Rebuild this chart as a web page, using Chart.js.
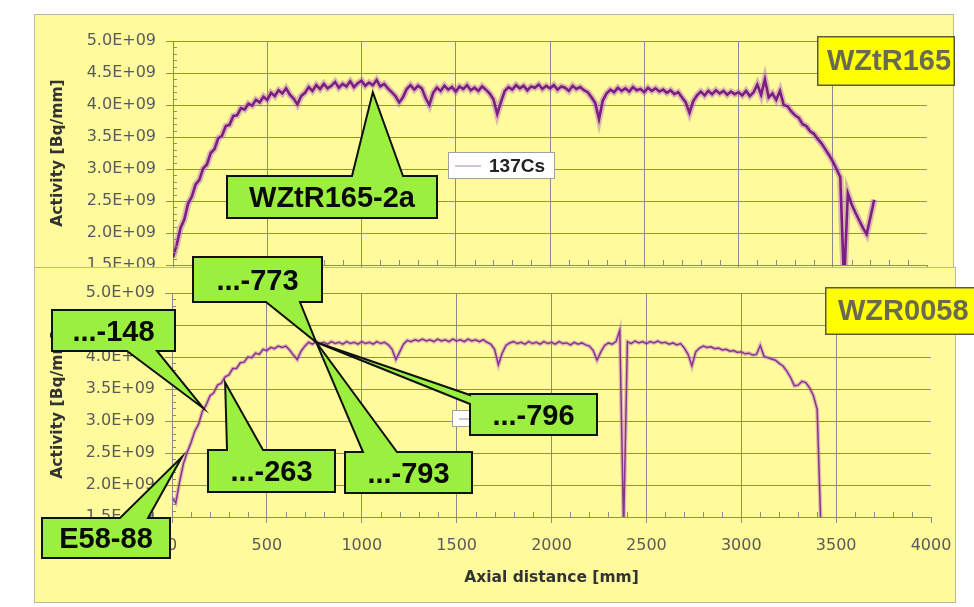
<!DOCTYPE html>
<html>
<head>
<meta charset="utf-8">
<title>137Cs axial activity profiles</title>
<script src="https://cdn.jsdelivr.net/npm/chart.js@4.4.1/dist/chart.umd.min.js"></script>
<style>
  body { margin: 0; background: #fff; }
  .panel { position: absolute; background: #fffb9d; outline: 1px solid #b9b9a4; overflow: hidden; }
  #panel-top { left: 35px; top: 15px; width: 918px; height: 253px; }
  #panel-bottom { left: 35px; top: 268px; width: 920px; height: 334px; }
  .panel canvas { position: absolute; left: 0; top: 0; }
  #overlay { position: absolute; left: 0; top: 0; }
</style>
</head>
<body>
<div class="panel" id="panel-top"><canvas id="chart-top" width="918" height="334"></canvas></div>
<div class="panel" id="panel-bottom"><canvas id="chart-bottom" width="920" height="334"></canvas></div>
<canvas id="overlay" width="974" height="607"></canvas>
<script>
// scan positions: one reading every 20 mm starting at 0 mm
const stepMm = 20;
const xMax = 4000;
const xTickStep = 500;
const yMin = 1.5, yMax = 5.0, yTickStep = 0.5; // in 1E+09 Bq/mm

// 137Cs activity of rod WZtR165 [1E+09 Bq/mm]
const wztr165 = [
  1.62, 1.82, 2.08, 2.21, 2.46, 2.57, 2.76, 2.83, 3.01, 3.07,
  3.25, 3.31, 3.48, 3.52, 3.67, 3.69, 3.83, 3.84, 3.95, 3.93,
  4.02, 3.99, 4.08, 4.04, 4.13, 4.08, 4.19, 4.14, 4.23, 4.18,
  4.26, 4.16, 4.10, 4.01, 4.14, 4.19, 4.28, 4.22, 4.31, 4.25,
  4.33, 4.26, 4.30, 4.36, 4.27, 4.33, 4.29, 4.37, 4.28, 4.34,
  4.38, 4.30, 4.35, 4.31, 4.39, 4.29, 4.33, 4.26, 4.20, 4.14,
  4.04, 4.12, 4.25, 4.31, 4.24, 4.30, 4.26, 4.11, 4.00, 4.19,
  4.27, 4.22, 4.30, 4.24, 4.28, 4.21, 4.29, 4.25, 4.31, 4.23,
  4.27, 4.22, 4.29, 4.24, 4.18, 4.09, 3.86, 4.05, 4.22, 4.28,
  4.24, 4.31, 4.26, 4.30, 4.23, 4.29, 4.27, 4.32, 4.25, 4.30,
  4.26, 4.31, 4.24, 4.29, 4.27, 4.22, 4.30, 4.25, 4.28, 4.23,
  4.20, 4.12, 4.03, 3.78, 4.07, 4.18, 4.24, 4.20, 4.27, 4.22,
  4.26, 4.21, 4.28, 4.23, 4.25, 4.20, 4.27, 4.22, 4.26, 4.21,
  4.24, 4.19, 4.23, 4.17, 4.20, 4.12, 4.04, 3.88, 4.06, 4.15,
  4.21, 4.15, 4.22, 4.17, 4.23, 4.18, 4.22, 4.16, 4.21, 4.17,
  4.20, 4.15, 4.22, 4.14, 4.20, 4.32, 4.16, 4.40, 4.12, 4.18,
  4.08, 4.22, 4.00, 3.98, 3.90, 3.84, 3.80, 3.70, 3.67, 3.59,
  3.55, 3.47, 3.40, 3.31, 3.22, 3.12, 3.00, 2.87, 1.20, 2.62,
  2.45, 2.32, 2.20, 2.08, 1.98, 2.25, 2.52
];

// 137Cs activity of rod WZR0058 [1E+09 Bq/mm]
const wzr0058 = [
  1.80, 1.72, 2.05, 2.33, 2.51, 2.66, 2.84, 2.95, 3.15, 3.25,
  3.39, 3.44, 3.56, 3.59, 3.69, 3.72, 3.82, 3.82, 3.91, 3.92,
  4.00, 3.99, 4.06, 4.04, 4.12, 4.10, 4.15, 4.13, 4.17, 4.15,
  4.17, 4.11, 4.03, 3.96, 4.09, 4.17, 4.23, 4.20, 4.24, 4.21,
  4.23, 4.20, 4.24, 4.21, 4.23, 4.20, 4.24, 4.21, 4.23, 4.20,
  4.24, 4.21, 4.23, 4.20, 4.24, 4.21, 4.23, 4.19, 4.12, 3.96,
  4.08, 4.20, 4.26, 4.24, 4.27, 4.25, 4.28, 4.25, 4.27, 4.24,
  4.28, 4.25, 4.27, 4.24, 4.28, 4.25, 4.27, 4.24, 4.28, 4.25,
  4.27, 4.24, 4.27, 4.23, 4.20, 4.12, 3.88, 4.06, 4.18, 4.22,
  4.24, 4.21, 4.23, 4.20, 4.24, 4.21, 4.23, 4.20, 4.24, 4.21,
  4.23, 4.20, 4.24, 4.21, 4.22, 4.19, 4.23, 4.20, 4.22, 4.19,
  4.17, 4.10, 3.95, 4.08, 4.18, 4.22, 4.20, 4.24, 4.42, 1.30,
  4.24, 4.21, 4.25, 4.22, 4.24, 4.21, 4.24, 4.22, 4.25, 4.22,
  4.23, 4.20, 4.22, 4.19, 4.21, 4.14, 4.04, 3.86, 4.08, 4.14,
  4.17, 4.15, 4.16, 4.13, 4.14, 4.11, 4.12, 4.09, 4.10, 4.07,
  4.08, 4.05, 4.06, 4.03, 4.04, 4.18, 4.01, 3.99, 3.97, 3.95,
  3.90, 3.86, 3.78, 3.68, 3.55, 3.56, 3.62, 3.60, 3.52, 3.40,
  3.18, 1.30
];

// sample callouts: tip given in (mm, 1E+09 Bq/mm) of the chart it points into
const callouts = [
  { text: 'WZtR165-2a', chart: 'top', at: [1060, 4.2], box: [227, 176, 210, 42], side: 'top', base: [352, 403] },
  { text: 'E58-88', chart: 'bottom', at: [53, 2.44], box: [42, 518, 128, 40], side: 'top', base: [120, 148] },
  { text: '...-148', chart: 'bottom', at: [165, 3.2], box: [52, 310, 123, 41], side: 'bottom', base: [127, 157] },
  { text: '...-263', chart: 'bottom', at: [280, 3.6], box: [208, 450, 127, 42], side: 'top', base: [227, 263] },
  { text: '...-796', chart: 'bottom', at: [760, 4.23], box: [470, 394, 127, 41], side: 'left', base: [395, 404] },
  { text: '...-793', chart: 'bottom', at: [760, 4.23], box: [345, 452, 127, 41], side: 'top', base: [363, 397] },
  { text: '...-773', chart: 'bottom', at: [760, 4.23], box: [193, 257, 129, 45], side: 'bottom', base: [266, 300] }
];

const gridGray = '#8a8a8a';
const axisFamily = '"DejaVu Sans", Arial, sans-serif';
const tickFont = { family: axisFamily, size: 16 };
const titleFont = { family: axisFamily, size: 15.5, weight: 'bold' };
const labelFamily = 'Arial, "Liberation Sans", sans-serif';

// Excel style minor tick marks along both axes
const minorTicks = {
  id: 'minorTicks',
  afterDraw(chart) {
    const { ctx, chartArea: a, scales: { x, y } } = chart;
    ctx.save();
    ctx.strokeStyle = gridGray;
    ctx.lineWidth = 1;
    ctx.beginPath();
    for (let v = 100; v < xMax; v += 100) {
      if (v % xTickStep === 0) continue;
      const px = Math.round(x.getPixelForValue(v)) + 0.5;
      ctx.moveTo(px, a.bottom);
      ctx.lineTo(px, a.bottom - 5);
    }
    for (let i = 16; i < 50; i++) {
      if (i % 5 === 0) continue;
      const py = Math.round(y.getPixelForValue(i / 10)) + 0.5;
      ctx.moveTo(a.left, py);
      ctx.lineTo(a.left + 4, py);
    }
    ctx.stroke();
    ctx.restore();
  }
};

function buildChart(id, values, o) {
  const points = values.map((v, i) => ({ x: i * stepMm, y: v }));
  return new Chart(document.getElementById(id), {
    type: 'line',
    data: {
      datasets: [
        { label: '137Cs', data: points, borderColor: o.color, borderWidth: o.width, pointRadius: 0, tension: 0, order: 0 },
        { label: '137Cs', data: points, borderColor: o.halo, borderWidth: o.haloWidth, pointRadius: 0, tension: 0, order: 1 }
      ]
    },
    options: {
      responsive: false,
      animation: false,
      events: [],
      layout: { padding: o.padding },
      plugins: { legend: { display: false }, tooltip: { enabled: false } },
      scales: {
        x: {
          type: 'linear', min: 0, max: xMax,
          ticks: { stepSize: xTickStep, color: '#5a5a5a', font: tickFont, padding: 13, maxRotation: 0, callback: v => String(v) },
          grid: {
            color: c => (c.tick && c.tick.value === xMax) ? 'rgba(0,0,0,0)' : gridGray,
            tickColor: gridGray, tickLength: 6
          },
          border: { color: gridGray },
          title: { display: true, text: 'Axial distance [mm]', color: '#333', font: titleFont, padding: { top: 4, bottom: 4 } },
          // fixed axis band; labels at the ends may spill into the panel margin
          afterFit: s => { s.height = 74; s.paddingLeft = 0; s.paddingRight = 0; }
        },
        y: {
          min: yMin, max: yMax,
          ticks: { stepSize: yTickStep, color: '#5a5a5a', font: tickFont, padding: 10, callback: v => v.toFixed(1) + 'E+09' },
          grid: { color: gridGray, tickColor: gridGray, tickLength: 7 },
          border: { color: gridGray },
          title: { display: true, text: 'Activity [Bq/mm]', color: '#333', font: titleFont, padding: { top: 4, bottom: 4 } },
          afterFit: s => { s.width = o.yWidth; s.paddingTop = 0; s.paddingBottom = 0; }
        }
      }
    },
    plugins: [minorTicks]
  });
}

const charts = {
  top: buildChart('chart-top', wztr165, {
    color: '#7d1d84', width: 2.6, halo: 'rgba(175,105,190,0.45)', haloWidth: 6.5,
    padding: { left: 10, right: 26, top: 26, bottom: 10 }, yWidth: 128
  }),
  bottom: buildChart('chart-bottom', wzr0058, {
    color: '#8a3090', width: 1.5, halo: 'rgba(180,110,190,0.45)', haloWidth: 4,
    padding: { left: 10, right: 24, top: 25, bottom: 11 }, yWidth: 127
  })
};
const panels = { top: document.getElementById('panel-top'), bottom: document.getElementById('panel-bottom') };

function toPage(name, mm, val) {
  const ch = charts[name], p = panels[name];
  return { x: p.offsetLeft + ch.scales.x.getPixelForValue(mm), y: p.offsetTop + ch.scales.y.getPixelForValue(val) };
}

function drawLegend(ctx, chart, x, y, w, h) {
  const ds = chart.data.datasets[0];
  ctx.fillStyle = '#fff';
  ctx.fillRect(x, y, w, h);
  ctx.strokeStyle = '#a0a0a0';
  ctx.lineWidth = 1;
  ctx.strokeRect(x + 0.5, y + 0.5, w - 1, h - 1);
  ctx.strokeStyle = '#9a8aa0';
  ctx.beginPath();
  ctx.moveTo(x + 7, y + h / 2 + 0.5);
  ctx.lineTo(x + 33, y + h / 2 + 0.5);
  ctx.stroke();
  ctx.fillStyle = '#222';
  ctx.font = 'bold 19px ' + labelFamily;
  ctx.textAlign = 'left';
  ctx.textBaseline = 'middle';
  ctx.fillText(ds.label, x + 41, y + h / 2 + 1);
}

function drawTag(ctx, text, x, y, w, h, tx) {
  ctx.fillStyle = '#ffff00';
  ctx.fillRect(x, y, w, h);
  ctx.strokeStyle = '#5a5a40';
  ctx.lineWidth = 1.5;
  ctx.strokeRect(x + 0.75, y + 0.75, w - 1.5, h - 1.5);
  ctx.fillStyle = '#6a6a52';
  ctx.font = 'bold 29px ' + labelFamily;
  ctx.textAlign = 'left';
  ctx.textBaseline = 'middle';
  ctx.fillText(text, tx, y + h / 2 + 1);
}

function drawCallout(ctx, c) {
  const tip = toPage(c.chart, c.at[0], c.at[1]);
  const [x, y, w, h] = c.box;
  const [a, b] = c.base;
  ctx.beginPath();
  ctx.moveTo(x, y);
  if (c.side === 'top') { ctx.lineTo(a, y); ctx.lineTo(tip.x, tip.y); ctx.lineTo(b, y); }
  ctx.lineTo(x + w, y);
  ctx.lineTo(x + w, y + h);
  if (c.side === 'bottom') { ctx.lineTo(b, y + h); ctx.lineTo(tip.x, tip.y); ctx.lineTo(a, y + h); }
  ctx.lineTo(x, y + h);
  if (c.side === 'left') { ctx.lineTo(x, b); ctx.lineTo(tip.x, tip.y); ctx.lineTo(x, a); }
  ctx.closePath();
  ctx.fillStyle = '#9bef3e';
  ctx.fill();
  ctx.strokeStyle = '#111';
  ctx.lineWidth = 2;
  ctx.lineJoin = 'miter';
  ctx.stroke();
  ctx.fillStyle = '#0a0a0a';
  ctx.font = 'bold 29px ' + labelFamily;
  ctx.textAlign = 'center';
  ctx.textBaseline = 'middle';
  ctx.fillText(c.text, x + w / 2, y + h / 2 + 2);
}

const octx = document.getElementById('overlay').getContext('2d');
drawLegend(octx, charts.top, 448, 152, 107, 27);
drawLegend(octx, charts.bottom, 452, 410, 100, 17);
drawTag(octx, 'WZtR165', 817, 36, 138, 50, 827);
drawTag(octx, 'WZR0058', 825, 287, 170, 48, 838);
callouts.forEach(c => drawCallout(octx, c));
</script>
</body>
</html>
